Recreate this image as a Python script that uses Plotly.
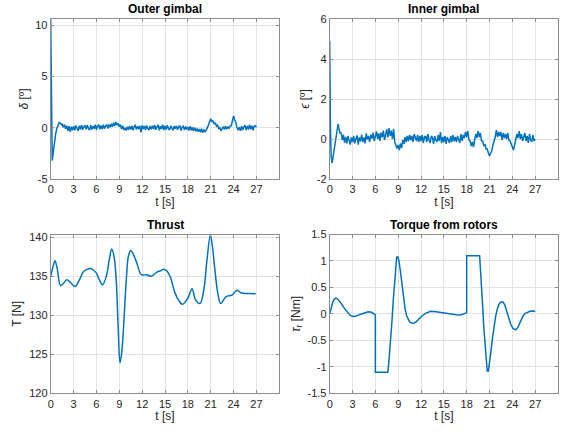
import plotly.graph_objects as go

# ---------------- data ----------------
x_ticks = [0, 3, 6, 9, 12, 15, 18, 21, 24, 27]

# Outer gimbal delta [deg]
delta_t_start = [0, 0.05, 0.12, 0.2, 0.3, 0.43, 0.55, 0.65, 0.8, 0.95, 1.1, 1.25, 1.4]
delta_start = [10.6, 6.0, 0.0, -3.2, -2.6, -1.6, -1.0, -0.6, -0.1, 0.3, 0.5, 0.45, 0.3]
delta_noise_t0 = 1.5
delta_noise_dt = 0.15
delta_noise = [
    0.35, 0.05, 0.3, -0.1, 0.2, -0.3, 0.15, -0.4, 0.1, -0.25,
    0.15, -0.25, 0.22, -0.1, -0.3, 0.2, -0.15, 0.25, -0.2, 0.1,
    0.22, -0.15, 0.28, -0.1, -0.22, 0.25, -0.18, 0.15, -0.1, 0.3,
    -0.2, 0.15, 0.3, -0.15, 0.22, -0.12, 0.3, -0.1, 0.2, 0.28,
    -0.08, 0.32, 0.05, 0.38, 0.1, 0.48, 0.18, 0.55, 0.25, 0.42,
    0.1, 0.3, -0.12, 0.2, -0.22, 0.0, -0.28, 0.08, -0.2, 0.15,
    -0.18, 0.18, -0.25, 0.12, 0.22, -0.18, 0.15, -0.12, 0.18, -0.45,
    0.22, -0.12, 0.18, -0.22, 0.22, -0.08, -0.22, 0.18, -0.15, 0.2,
    -0.12, 0.24, -0.2, 0.12, 0.28, -0.25, 0.15, -0.12, 0.3, -0.22,
    0.18, -0.18, 0.24, -0.08, -0.22, 0.18, -0.04, -0.24, 0.15, -0.1,
    0.18, -0.2, 0.12, 0.18, -0.28, 0.08, 0.15, -0.22, 0.12, -0.18,
    0.08, -0.28, 0.15, -0.26, 0.04, -0.3, 0.0, -0.35, -0.08, -0.4,
    -0.12, -0.45, -0.1, -0.48, -0.18, -0.38, -0.25, -0.05, 0.25, 0.6,
    0.88, 0.55, 0.68, 0.35, 0.48, 0.15, 0.25, -0.12, 0.0, -0.3,
    -0.08, 0.12, -0.18, 0.15, -0.15, 0.12, -0.08, 0.15, 0.2, 0.75,
    1.15, 0.75, 0.5, 0.0, -0.25, 0.05, -0.3, 0.15, -0.22, 0.08,
    0.25, -0.22, 0.18, -0.18, 0.3, -0.15, 0.2, -0.25, 0.15, 0.2,
    0.05,
]

# Inner gimbal epsilon [deg]
eps_t_start = [0, 0.03, 0.1, 0.2, 0.3, 0.4, 0.55, 0.7, 0.85, 1.0, 1.1, 1.2, 1.35]
eps_start = [4.9, 3.0, 0.5, -0.9, -1.2, -1.0, -0.6, -0.2, 0.2, 0.5, 0.75, 0.55, 0.3]
eps_noise_t0 = 1.5
eps_noise_dt = 0.15
eps_noise = [
    0.3, -0.05, 0.22, -0.18, 0.1, -0.22, 0.15, -0.1, -0.28, 0.08,
    -0.15, 0.15, -0.22, 0.02, 0.18, -0.28, 0.08, -0.12, 0.22, -0.15,
    0.08, -0.22, 0.28, -0.02, 0.15, -0.15, 0.22, 0.02, 0.32, -0.1,
    0.15, 0.38, 0.0, 0.28, -0.1, 0.32, 0.08, 0.42, -0.05, 0.28,
    0.48, 0.08, 0.55, 0.15, 0.42, 0.0, 0.5, -0.15, -0.32, -0.48,
    -0.3, -0.55, -0.22, -0.45, -0.05, -0.25, 0.1, -0.15, 0.15, -0.1,
    0.2, -0.05, 0.15, -0.15, 0.25, 0.0, -0.1, 0.2, -0.15, 0.15,
    -0.1, 0.2, -0.2, 0.1, 0.15, -0.15, 0.25, -0.05, -0.2, 0.15,
    0.08, -0.25, 0.15, -0.05, -0.15, 0.2, -0.1, 0.35, -0.2, 0.1,
    -0.15, 0.15, -0.25, 0.1, -0.05, -0.2, 0.15, -0.15, 0.2, -0.1,
    0.1, -0.15, 0.15, -0.05, -0.2, 0.25, -0.1, 0.2, 0.05, 0.35,
    0.1, 0.4, -0.05, -0.1, -0.35, -0.15, -0.4, -0.05, 0.25, 0.05,
    0.4, 0.1, 0.3, -0.1, -0.1, -0.35, -0.25, -0.5, -0.5, -0.7,
    -0.85, -0.7, -0.6, -0.3, -0.15, 0.1, 0.45, 0.1, 0.35, 0.15,
    0.35, -0.05, 0.3, 0.05, 0.25, 0.0, 0.3, -0.05, -0.1, -0.25,
    -0.35, -0.55, -0.3, 0.0, 0.25, 0.05, 0.4, 0.0, 0.25, -0.1,
    0.2, 0.3, -0.1, 0.15, -0.2, 0.25, -0.05, -0.15, 0.2, -0.1,
    0.0,
]

# Thrust T [N]
thrust_t = [0, 0.3, 0.57, 0.85, 1.3, 1.7, 2.1, 2.6, 3.2, 3.8, 4.3, 4.8, 5.15, 5.6, 6.0,
            6.4, 6.8, 7.3, 7.7, 8.0, 8.3, 8.6, 8.85, 9.1, 9.35, 9.65, 9.95, 10.2, 10.5,
            10.8, 11.3, 11.9, 12.6, 13.2, 13.9, 14.4, 14.85, 15.3, 15.7, 16.3, 16.8,
            17.3, 18.0, 18.55, 19.0, 19.6, 20.1, 20.5, 20.95, 21.2, 21.5, 21.9, 22.3,
            22.7, 23.05, 23.8, 24.45, 25.0, 25.9, 26.9]
thrust = [135.0, 136.2, 137.0, 136.0, 133.8, 134.1, 134.55, 134.2, 133.7, 134.6, 135.6,
          135.9, 136.0, 135.8, 135.4, 134.5, 133.9, 135.0, 137.2, 138.5, 137.6, 134.5,
          128.5, 123.9, 125.5, 130.0, 135.0, 137.6, 138.3, 137.9, 136.7, 135.2, 135.2,
          135.0, 135.5, 135.7, 135.9, 135.6, 134.9, 132.9, 131.9, 131.4, 132.2, 133.4,
          132.0, 131.5, 133.3, 137.0, 140.3, 139.0, 136.3, 133.0, 131.5, 132.0, 132.4,
          132.6, 133.2, 132.85, 132.8, 132.75]

# Torque from rotors tau_r [Nm]
torque_t = [0, 0.2, 0.4, 0.6, 0.83, 1.05, 1.3, 1.6, 1.95, 2.3, 2.7, 3.07, 3.5, 4.0, 4.5,
            5.05, 5.5, 5.9, 6.0, 6.0, 7.64, 7.75, 7.9, 8.05, 8.2, 8.35, 8.5, 8.65, 8.8,
            8.95, 9.1, 9.3, 9.5, 9.7, 9.9, 10.1, 10.3, 10.5, 10.8, 11.06, 11.35, 11.7,
            12.2, 12.7, 13.3, 14.0, 15.0, 16.0, 16.6, 17.2, 17.7, 17.95, 18.0, 18.0,
            19.7, 19.8, 19.95, 20.1, 20.25, 20.4, 20.55, 20.7, 20.85, 21.0, 21.2, 21.4,
            21.6, 21.8, 22.0, 22.2, 22.45, 22.75, 23.0, 23.3, 23.55, 23.8, 24.1, 24.45,
            24.75, 25.0, 25.3, 25.6, 26.0, 26.3, 26.65, 27.0]
torque = [0.0, 0.12, 0.22, 0.28, 0.30, 0.28, 0.24, 0.18, 0.10, 0.03, -0.03, -0.05, -0.04,
          -0.01, 0.02, 0.04, 0.03, 0.0, -0.02, -1.1, -1.1, -0.95, -0.7, -0.4, -0.1, 0.25,
          0.6, 0.9, 1.07, 1.08, 1.0, 0.8, 0.55, 0.3, 0.1, -0.03, -0.1, -0.15, -0.17,
          -0.175, -0.15, -0.1, -0.03, 0.02, 0.05, 0.04, 0.015, 0.0, -0.015, -0.02, 0.0,
          0.02, 0.03, 1.1, 1.1, 0.9, 0.55, 0.15, -0.25, -0.6, -0.9, -1.08, -1.08, -0.95,
          -0.7, -0.45, -0.22, -0.05, 0.08, 0.17, 0.22, 0.23, 0.17, 0.04, -0.08, -0.2,
          -0.28, -0.30, -0.25, -0.16, -0.07, 0.0, 0.035, 0.05, 0.055, 0.05]

y1_ticks = [-5, 0, 5, 10]
y2_ticks = [-2, 0, 2, 4, 6]
y3_ticks = [120, 125, 130, 135, 140]
y4_ticks = [-1.5, -1, -0.5, 0, 0.5, 1, 1.5]

# ---------------- build ----------------
delta_t = delta_t_start + [delta_noise_t0 + i * delta_noise_dt for i in range(len(delta_noise) - 1)] + [27.0]
delta = delta_start + delta_noise
eps_t = eps_t_start + [eps_noise_t0 + i * eps_noise_dt for i in range(len(eps_noise) - 1)] + [27.0]
eps = eps_start + eps_noise

BLUE = "#0072BD"
FONT = "Liberation Sans, Arial, Helvetica, sans-serif"
TXT = "#262626"
W, H = 564, 432

fig = go.Figure()
fig.add_trace(go.Scatter(x=delta_t, y=delta, mode="lines", line=dict(color=BLUE, width=1.5),
                         xaxis="x", yaxis="y", showlegend=False))
fig.add_trace(go.Scatter(x=eps_t, y=eps, mode="lines", line=dict(color=BLUE, width=1.5),
                         xaxis="x2", yaxis="y2", showlegend=False))
fig.add_trace(go.Scatter(x=thrust_t, y=thrust, mode="lines",
                         line=dict(color=BLUE, width=1.5, shape="spline", smoothing=1.0),
                         xaxis="x3", yaxis="y3", showlegend=False))
fig.add_trace(go.Scatter(x=torque_t, y=torque, mode="lines",
                         line=dict(color=BLUE, width=1.5),
                         xaxis="x4", yaxis="y4", showlegend=False))

# pixel boxes: (left, right, top, bottom)
boxes = [
    (50.7, 279.3, 19.0, 179.0),
    (329.7, 558.0, 19.0, 179.0),
    (50.7, 279.3, 234.5, 393.3),
    (329.7, 558.0, 234.5, 393.3),
]
yranges = [[-5, 10.6], [-2, 6], [120, 140.35], [-1.5, 1.5]]
yticks = [y1_ticks, y2_ticks, y3_ticks, y4_ticks]
ylabels = ["<i>δ</i> [º]", "<i>ϵ</i> [º]", "T [N]", "<i>τ</i><sub>r</sub> [Nm]"]
titles = ["Outer gimbal", "Inner gimbal", "Thrust", "Torque from rotors"]

axis_common = dict(
    showline=True, linecolor="#8c8c8c", linewidth=1, mirror="ticks",
    ticks="inside", ticklen=3, tickcolor="#8c8c8c", tickwidth=1,
    showgrid=True, gridcolor="#e3e3e3", gridwidth=1, zeroline=False,
    automargin=False,
    tickfont=dict(family=FONT, size=11, color=TXT),
)

layout = dict(
    width=W, height=H, margin=dict(l=0, r=0, t=0, b=0),
    paper_bgcolor="white", plot_bgcolor="white",
    font=dict(family=FONT, color=TXT), annotations=[],
)
for i, (l, r, t, b) in enumerate(boxes):
    sfx = "" if i == 0 else str(i + 1)
    xd = [l / W, r / W]
    yd = [1 - b / H, 1 - t / H]
    layout["xaxis" + sfx] = dict(
        axis_common, domain=xd, range=[0, 30], tickvals=x_ticks,
        ticktext=[str(v) for v in x_ticks], anchor="y" + sfx,
        title=dict(text="t [s]", font=dict(family=FONT, size=12, color=TXT), standoff=2),
    )
    layout["yaxis" + sfx] = dict(
        axis_common, domain=yd, range=yranges[i], tickvals=yticks[i],
        ticktext=["%g" % v for v in yticks[i]], anchor="x" + sfx,
        title=dict(text=ylabels[i], font=dict(family=FONT, size=12, color=TXT), standoff=4),
    )
    layout["annotations"].append(dict(
        text="<b>" + titles[i] + "</b>", x=(l + r) / 2 / W, y=1 - (t - 1) / H,
        xref="paper", yref="paper", xanchor="center", yanchor="bottom",
        showarrow=False, font=dict(family=FONT, size=12, color="black"),
    ))

fig.update_layout(**layout)
fig.write_html("out.html", config={"displayModeBar": False, "staticPlot": True},
               post_script="document.body.style.margin='0';document.body.style.overflow='hidden';")
